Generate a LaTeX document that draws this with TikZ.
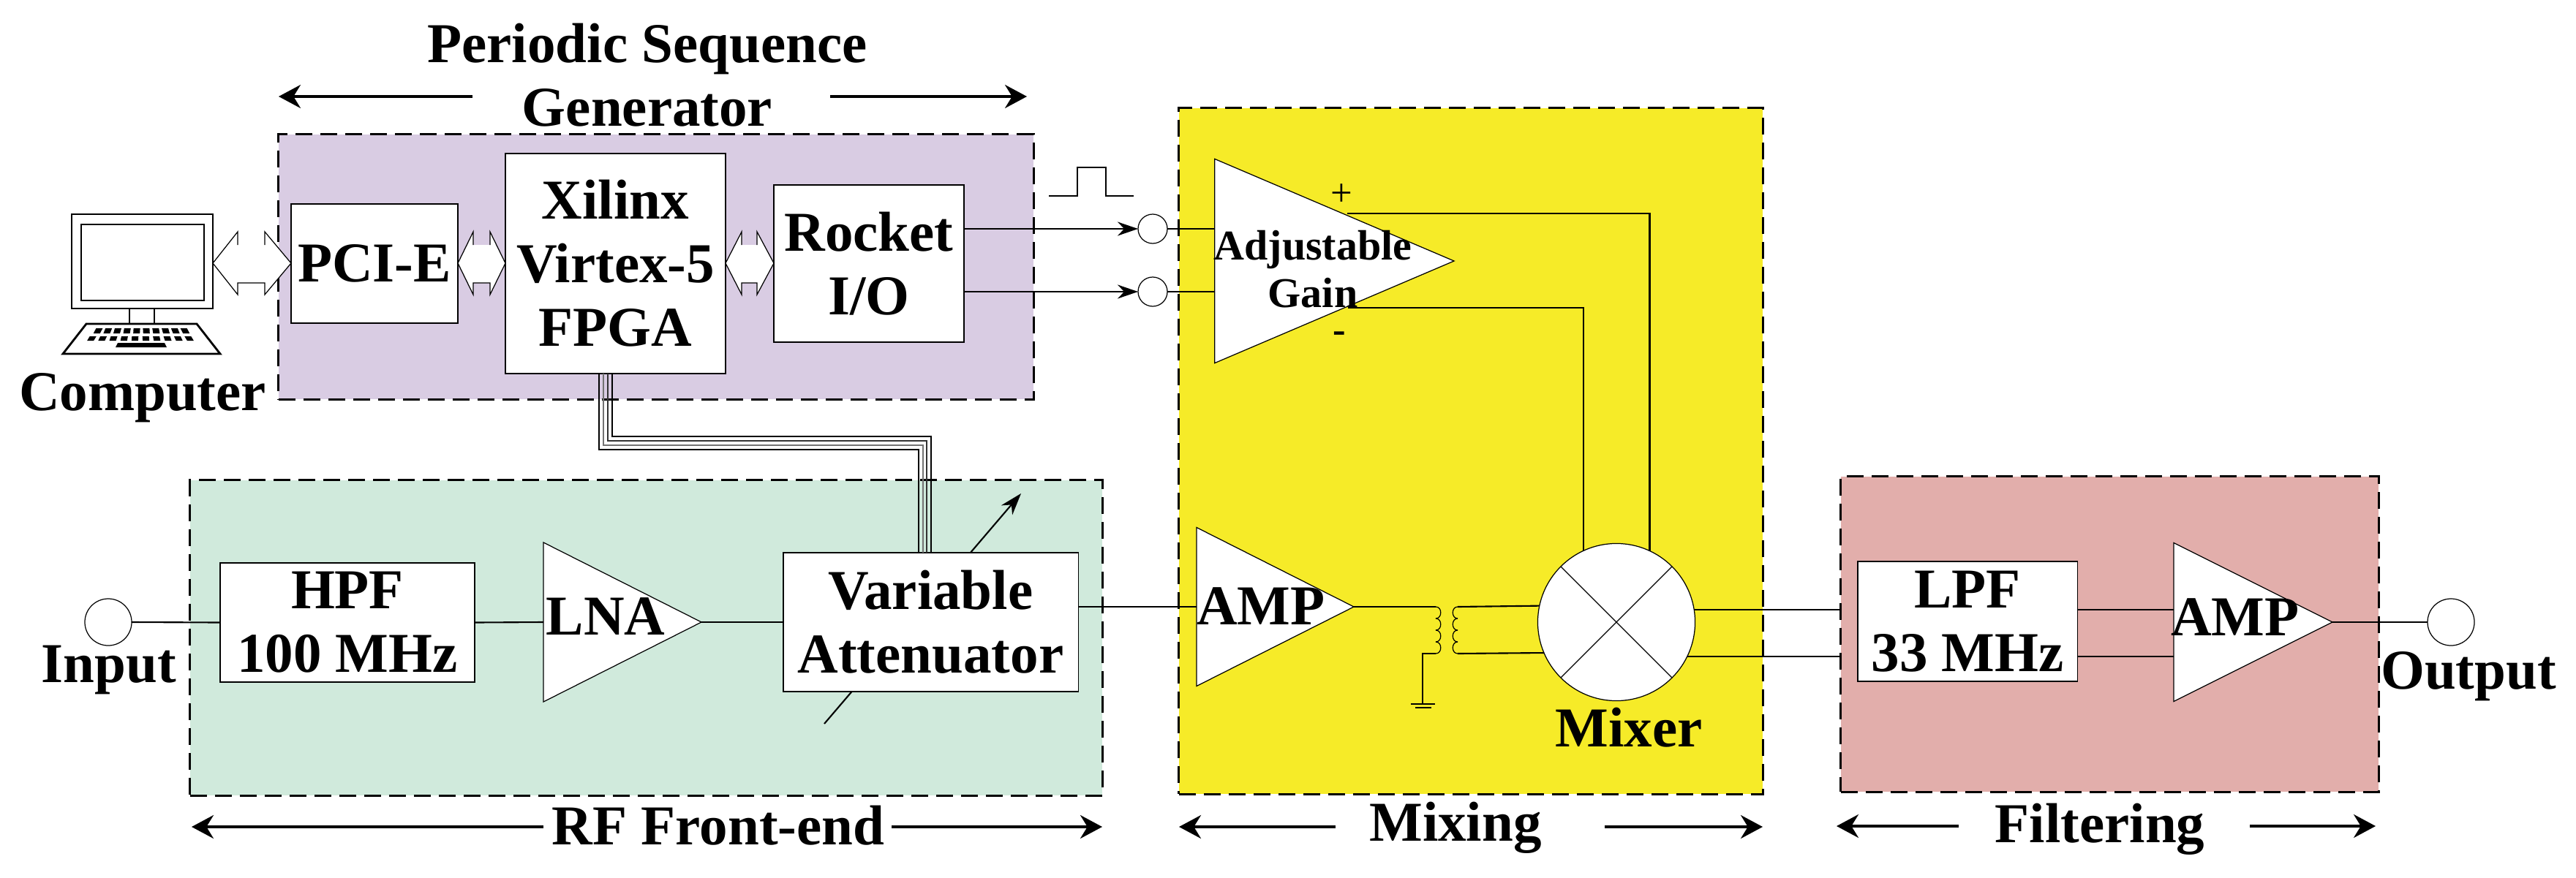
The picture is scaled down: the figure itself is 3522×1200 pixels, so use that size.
\documentclass[tikz,border=0pt]{standalone}
\usepackage{fontspec}
\setmainfont{Liberation Serif}
\usetikzlibrary{arrows.meta,shapes.geometric}
\definecolor{secpur}{RGB}{217,204,227}
\definecolor{secgrn}{RGB}{208,234,220}
\definecolor{secyel}{RGB}{246,235,40}
\definecolor{secred}{RGB}{226,174,171}
\begin{document}
\begin{tikzpicture}
  [x=.01cm,y=-.01cm,
   every node/.style={inner sep=0,outer sep=0},
   lab/.style={font=\fontsize{21.9pt}{24.7pt}\selectfont\bfseries,align=center},
   sect/.style={draw,line width=.85pt,dash pattern=on .23cm off .11cm},
   blk/.style={draw,fill=white,line width=.35pt,lab},
   tri/.style={draw,fill=white,line width=.35pt,isosceles triangle,isosceles triangle stretches,anchor=apex},
   port/.style={draw,fill=white,circle,line width=.35pt},
   wire/.style={line width=.6pt},
   span/.style={-{Stealth[length=.3cm,width=.32cm]},line width=1pt}]
  \useasboundingbox (0,0) rectangle (3522,1200);
  \node[sect,fill=secpur,minimum width=10.32cm,minimum height=3.62cm] (psg) at (897,365) {};
  \node[sect,fill=secgrn,minimum width=12.47cm,minimum height=4.31cm] (rf) at (883.5,872.5) {};
  \node[sect,fill=secyel,minimum width=7.98cm,minimum height=9.38cm] (mixing) at (2011,617) {};
  \node[sect,fill=secred,minimum width=7.35cm,minimum height=4.31cm] (fil) at (2884.5,867.5) {};

  \foreach \a/\b/\c/\d in {291/325/362/398,626/647/670/691,992/1014/1035/1058} {
    \fill[white] (\a,360) -- (\b,317) -- (\b,335) -- (\c,335) -- (\c,317) -- (\d,360) -- (\c,403) -- (\c,387) -- (\b,387) -- (\b,403) -- cycle;
    \draw[line width=.35pt] (\b,335) -- (\b,317) -- (\a,360) -- (\b,403) -- (\b,387) -- (\c,387) -- (\c,403) -- (\d,360) -- (\c,317) -- (\c,335);
  }

  \coordinate (tunea) at (1127,990);
  \coordinate (tuneb) at (1396,675);
  \draw[line width=.6pt,-{Stealth[length=.3cm,width=.2cm]}] (tunea) -- (tuneb);

  \node[blk,minimum width=2.28cm,minimum height=1.63cm] (pcie) at (512,360.5) {PCI-E};
  \node[blk,minimum width=3.01cm,minimum height=3.01cm] (fpga) at (841.5,360.5) {Xilinx\\Virtex-5\\FPGA};
  \node[blk,minimum width=2.6cm,minimum height=2.15cm] (rio) at (1188,360.5) {Rocket\\I/O};
  \node[blk,minimum width=3.48cm,minimum height=1.63cm] (hpf) at (475,851.5) {HPF\\100 MHz};
  \node[blk,minimum width=4.03cm,minimum height=1.9cm] (att) at (1272.5,851) {Variable\\Attenuator};
  \node[blk,minimum width=3cm,minimum height=1.64cm] (lpf) at (2690,850) {LPF\\33 MHz};

  \foreach \xa/\yb/\xc/\col in {819/615/1256/black,825/609/1262/black!55,831/603/1267/black!80,837/597/1273/black}
    \draw[line width=.3pt,\col] (\xa,0 |- fpga.south) -- (\xa,\yb) -- (\xc,\yb) -- (\xc,0 |- att.north);

  \node[tri,minimum width=2.18cm,minimum height=2.16cm] (lna) at (959,851) {};
  \node[tri,minimum width=2.17cm,minimum height=2.15cm] (amp1) at (1851,830) {};
  \node[tri,minimum width=2.17cm,minimum height=2.17cm] (amp2) at (3189,851) {};
  \node[tri,minimum width=2.79cm,minimum height=3.27cm] (adj) at (1988,357) {};

  \node[port,minimum size=.64cm] (inp) at (148,851) {};
  \node[port,minimum size=.64cm] (outp) at (3351,851) {};
  \node[port,minimum size=.4cm] (cp) at (1576,313) {};
  \node[port,minimum size=.4cm] (cn) at (1576,399) {};
  \node[port,minimum size=2.15cm] (mix) at (2210,851) {};
  \draw[line width=.35pt] (mix.45) -- (mix.225) (mix.135) -- (mix.-45);

  \foreach \from/\to in {inp.east/hpf.west,hpf.east/lna.lower side,lna.apex/att.west,amp2.apex/outp.west}
    \draw[wire] (\from) -- (\to);

  \coordinate (attout) at (att.east |- amp1.lower side);
  \draw[wire] (attout) -- (amp1.lower side);

  \coordinate (rioa) at (rio.east |- cp);
  \coordinate (riob) at (rio.east |- cn);
  \foreach \from/\to in {rioa/cp,riob/cn}
    \draw[wire,-{Stealth[length=.28cm,width=.19cm]}] (\from) -- (\to);
  \draw[wire] (cp.east) -- (cp.east -| adj.lower side);
  \draw[wire] (cn.east) -- (cn.east -| adj.lower side);

  \coordinate (adjp) at (1842,292);
  \coordinate (adjn) at (1843,421);
  \draw[wire] (adjp) -| (mix.65.8);
  \draw[wire] (adjn) -| (mix.115.4);

  \coordinate (coila) at (1963,830);
  \coordinate (coilb) at (1963,894);
  \coordinate (coilc) at (1993,830);
  \coordinate (coild) at (1993,894);
  \coordinate (gnd) at (1945,963);
  \foreach \y in {830,846,862,878} {
    \draw[line width=.35pt] (1963,\y) .. controls (1972,\y) and (1972,\y+16) .. (1963,\y+16);
    \draw[line width=.35pt] (1993,\y) .. controls (1984,\y) and (1984,\y+16) .. (1993,\y+16);
  }
  \draw[wire] (amp1.apex) -- (coila);
  \draw[line width=.35pt] (coilb) -| (gnd);
  \draw[line width=.35pt] (1929,963) -- (1962,963) (1935,968) -- (1957,968);
  \draw[wire] (coilc) -- (mix.168.7);
  \draw[wire] (coild) -- (mix.203.6);

  \draw[wire] (mix.9) -- (mix.9 -| fil.west);
  \draw[wire] (mix.-26) -- (mix.-26 -| fil.west);
  \coordinate (lpfa) at (lpf.east |- mix.9);
  \coordinate (lpfb) at (lpf.east |- mix.-26);
  \draw[wire] (lpfa) -- (lpfa -| amp2.lower side);
  \draw[wire] (lpfb) -- (lpfb -| amp2.lower side);

  \draw[line width=.35pt] (1434,268) -| (1473,229) -| (1512,268) -- (1550,268);

  \draw[line width=.8pt] (98,293) rectangle (291,422);
  \draw[line width=.8pt] (111,307) rectangle (279,411);
  \draw[line width=.7pt] (177,422) -- (177,443) (211,422) -- (211,443);
  \draw[line width=.8pt] (118,443) -- (269,443) -- (301,484) -- (86,484) -- cycle;
  \foreach \i in {-4.5,-3.5,...,4.5} {
    \fill ({193.5+\i*12.8-4.5},449) -- ({193.5+\i*12.8+4.5},449) -- ({193.5+\i*13.6+4.5},456) -- ({193.5+\i*13.6-4.5},456) -- cycle;
    \fill ({192+\i*14.4-4.5},460) -- ({192+\i*14.4+4.5},460) -- ({192+\i*15.2+4.5},466) -- ({192+\i*15.2-4.5},466) -- cycle;
  }
  \fill (161,469) -- (225,469) -- (228,475) -- (158,475) -- cycle;

  \node[lab] (tpsg) at (885,103) {Periodic Sequence\\Generator};
  \node[lab,anchor=base] (tcomp) at (195,561) {Computer};
  \node[lab,anchor=base] (tinp) at (149,933) {Input};
  \node[lab,anchor=base] (toutp) at (3375,942) {Output};
  \node[lab,anchor=base] (tlna) at (828,868) {LNA};
  \node[lab,anchor=base] (tamp1) at (1724,854) {AMP};
  \node[lab,anchor=base] (tamp2) at (3056,869) {AMP};
  \node[lab,anchor=base] (tmix) at (2227,1021) {Mixer};
  \node[lab,font=\fontsize{16.5pt}{18.5pt}\selectfont\bfseries] (tadj) at (1795,368) {Adjustable\\Gain};
  \node[font=\fontsize{15pt}{15pt}\selectfont] (tplus) at (1834,267) {+};
  \node[font=\fontsize{15pt}{15pt}\selectfont\bfseries] (tminus) at (1831,461) {-};
  \node[lab,anchor=base] (trf) at (982,1155) {RF Front-end};
  \node[lab,anchor=base] (tmixing) at (1990,1150) {Mixing};
  \node[lab,anchor=base] (tfil) at (2871,1152) {Filtering};

  \coordinate (pl) at (381,132);
  \coordinate (pm) at (646,132);
  \coordinate (pn) at (1135,132);
  \coordinate (pr) at (1404,132);
  \coordinate (rl) at (262,1131);
  \coordinate (rm) at (743,1131);
  \coordinate (rn) at (1219,1131);
  \coordinate (rr) at (1507,1131);
  \coordinate (ml) at (1612,1131);
  \coordinate (mm) at (1826,1131);
  \coordinate (mn) at (2194,1131);
  \coordinate (mr) at (2410,1131);
  \coordinate (fl) at (2511,1130);
  \coordinate (fm) at (2678,1130);
  \coordinate (fn) at (3076,1130);
  \coordinate (fr) at (3248,1130);
  \foreach \from/\to in {pm/pl,pn/pr,rm/rl,rn/rr,mm/ml,mn/mr,fm/fl,fn/fr}
    \draw[span] (\from) -- (\to);
\end{tikzpicture}
\end{document}
